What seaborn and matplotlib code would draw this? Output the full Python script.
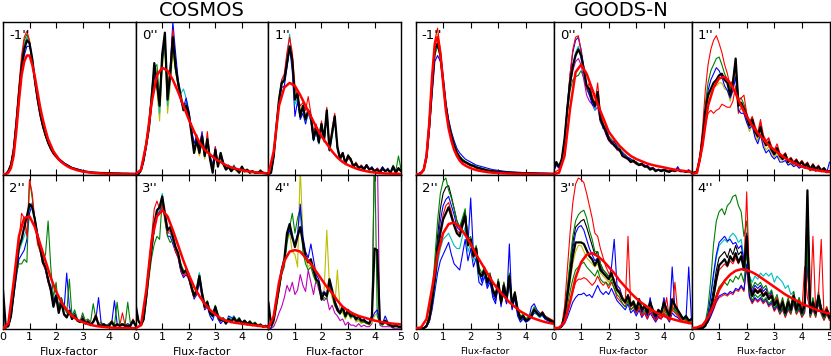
import numpy as np
import matplotlib
matplotlib.use("Agg")
import matplotlib.pyplot as plt
import seaborn as sns

# bin centres of the flux-factor histograms and the grid of the smooth fits
x_bins = np.linspace(0, 5, 51)
x_fit = np.linspace(0, 5, 26)

panel_labels = ["-1''", "0''", "1''", "2''", "3''", "4''"]

# ---------------- COSMOS ----------------
cos_m1_k = [0,0,2,6,15,32,52,70,82,88, 86,76,62,50,40,32,26,21,17,14, 12,10,8.5,7,6,5,4,3.5,3,2.5,
            2,1.7,1.5,1.2,1,1,0.9,0.8,0.8,0.7, 0.6,0.6,0.5,0.5,0.5,0.4,0.4,0.4,0.3,0.3, 0.3]
cos_m1_fit = [0,0,1,4,12,28,48,65,74,78, 78,72,64,54,44,36,29,23,19,15, 12.5,10,8,6.7,5.5,4.5,3.8,3.2,2.6,2.2,
              1.8,1.5,1.3,1.1,0.9,0.7,0.6,0.5,0.4,0.35, 0.3,0.25,0.2,0.2,0.15,0.1,0.1,0.1,0.1,0.05, 0]
cos_m1_g = [0,0,2,7,17,35,56,75,88,92, 87,75,61,49,39,31,25,20,17,14, 12,10,8,7,6,5,4,3.5,3,2.5,
            2,1.8,1.5,1.2,1,1,0.9,0.8,0.7,0.7, 0.6,0.6,0.5,0.5,0.4,0.4,0.4,0.3,0.3,0.3, 0.3]
cos_m1_b = [0,0,1,5,13,29,48,66,78,84, 84,76,63,51,41,33,27,22,18,15, 12,10,9,7.5,6.5,5.5,4.5,4,3.5,3,
            2.5,2,1.8,1.5,1.3,1.2,1.1,1,0.9,0.8, 0.7,0.7,0.6,0.6,0.5,0.5,0.5,0.4,0.4,0.4, 0.4]
cos_m1_r = [0,0,2,7,18,37,58,78,90,94, 88,74,60,48,38,31,25,20,16,13, 11,9,8,7,6,5,4,3.5,3,2.5,
            2,1.7,1.4,1.2,1,0.9,0.8,0.8,0.7,0.6, 0.6,0.5,0.5,0.5,0.4,0.4,0.4,0.3,0.3,0.3, 0.3]
cos_m1_c = [0,0,2,6,16,33,54,73,85,90, 86,75,62,50,40,33,27,22,18,15, 12,10,8.5,7,6,5,4.2,3.6,3,2.5,
            2,1.7,1.5,1.2,1,1,0.9,0.8,0.8,0.7, 0.6,0.6,0.5,0.5,0.5,0.4,0.4,0.4,0.3,0.3, 0.3]

cos_0_k = [0,0,3,10,20,31,49,73,60,45, 79,93,49,66,90,71,60,51,42,45, 40,27,14,23,14,25,12,23,10,1,
           16,5,14,7,3,5,2,4,3,1, 5,2,3,1,2,1,1,2,1,0.5, 0.5]
cos_0_fit = [0,3,20,47,65,70,68,62,54,45, 36,28,21,16,13,10,8,6,4.5,3.5, 2.7,2,1.5,1.1,0.8,0.6]
cos_0_g = [0,0,3,10,22,35,55,70,72,50, 75,85,55,62,85,68,58,50,44,47, 38,30,18,20,16,22,14,20,12,5,
           14,8,12,6,4,5,3,6,3,2, 4,2,3,2,2,1,1,3,1,1, 0.5]
cos_0_b = [0,0,2,8,18,30,47,65,58,48, 75,88,52,70,100,80,62,48,44,50, 42,30,20,26,18,28,14,22,12,6,
           18,6,12,8,4,6,2,5,3,2, 4,2,2,1,2,1,1,1,1,0.5, 0.5]
cos_0_r = [0,0,3,10,20,33,52,70,62,46, 78,90,55,70,95,72,58,50,45,44, 38,28,16,22,14,26,12,28,10,4,
           18,6,14,8,3,5,2,4,3,1, 4,2,3,1,2,1,1,2,1,0.5, 0.5]
cos_0_c = [0,0,3,9,19,30,48,68,60,40, 72,88,45,62,88,70,62,53,56,50, 40,28,16,22,15,24,13,20,11,4,
           15,6,12,7,3,6,3,5,3,2, 4,2,3,1,2,1,1,1,1,0.5, 0.5]
cos_0_y = [0,0,2,8,18,28,45,62,55,35, 70,82,40,58,80,68,58,50,42,44, 38,26,14,20,12,22,10,18,10,2,
           14,5,12,6,3,4,2,4,2,1, 3,1,2,1,1,1,1,1,1,0.5, 0.5]

cos_1_k = [0,1,12,31,49,60,62,73,84,75, 49,53,38,45,36,42,38,23,31,21, 33,23,42,16,27,38,18,10,14,7,
           12,10,5,7,4,5,3,6,3,4, 2,3,1,4,2,3,1,5,1,4, 2]
cos_1_fit = [0,15,45,57,60,58,52,45,38,31, 25,20,15,11,8,6,4.5,3.2,2.3,1.6, 1.1,0.8,0.5,0.4,0.3,0.2]
cos_1_r = [0,1,12,30,48,62,66,80,90,80, 58,50,45,47,42,51,40,28,33,24, 35,22,44,18,30,40,16,12,14,8,
           10,9,5,8,4,6,3,5,4,3, 2,4,2,3,2,3,1,4,1,3, 2]
cos_1_c = [0,1,13,33,50,62,64,78,92,72, 46,50,40,42,35,40,36,25,30,20, 32,22,38,15,25,35,16,9,13,6,
           11,9,5,6,4,5,3,5,3,4, 2,3,2,3,2,3,1,4,1,3, 2]
cos_1_b = [0,1,11,29,47,57,58,70,83,68, 38,48,36,40,33,40,35,22,28,20, 30,24,40,17,27,36,18,11,14,8,
           12,10,6,7,4,6,4,6,3,5, 2,4,2,5,2,4,1,5,2,4, 2]
cos_1_g = [0,1,12,31,48,59,61,72,82,74, 50,52,38,44,35,41,37,22,31,22, 33,21,40,16,26,37,17,10,14,7,
           13,10,6,7,5,5,4,6,3,4, 2,3,2,4,2,3,1,6,2,12, 3]

cos_2_k = [25,2,1.5,8,23,38,53,58,66,73, 81,79,71,60,53,43,40,32,25,14, 21,10,17,9,7,11,6,8,5,4,
           6,3,4,2,4,8,2,1.5,2.5,1, 1.5,4,1,2.5,1.5,2.5,1.5,1.5,1.5,5, 1.5]
cos_2_fit = [0,3,30,60,72,73,66,55,44,33, 24,17,12,8,5.5,4,2.7,1.8,1.2,0.8, 0.5,0.3,0.2,0.1,0.1,0]
cos_2_g = [0,0,1,8,22,36,42,42,45,43, 97,85,70,58,50,45,48,70,40,20, 30,12,20,14,10,32,8,12,6,4,
           10,5,6,4,16,6,3,4,2,2, 3,5,2,17,2,3,2,17,3,4, 2]
cos_2_b = [0,0,1,7,20,33,45,48,51,58, 75,81,72,62,55,45,38,30,28,18, 22,14,20,12,36,14,8,10,6,4,
           8,4,5,3,4,6,20,3,2,2, 3,4,18,3,2,3,2,3,2,4, 2]
cos_2_r = [0,0,2,9,25,40,56,75,72,60, 97,88,70,55,50,42,38,30,24,15, 20,12,16,9,8,12,6,9,5,4,
           7,3,5,2,5,9,3,2,3,1, 2,5,1,3,2,10,2,2,2,6, 2]
cos_2_c = [0,0,1,8,22,37,50,55,60,65, 78,82,70,58,52,46,40,33,26,16, 22,11,18,10,8,10,7,8,5,4,
           6,4,5,3,4,7,3,2,3,2, 2,4,2,3,2,3,2,2,2,5, 2]

cos_3_k = [15,5,2,6,21,38,53,68,77,79, 86,75,64,66,60,53,49,40,36,38, 34,27,21,25,34,23,14,17,10,8,
           14,8,5,6,3,6,4,7,4,6, 3,5,3,4,2,3,1.5,2,1,1.5, 1]
cos_3_fit = [0,2,25,57,73,77,73,64,54,44, 35,27,21,16,12,9,6.5,5,4,3.4, 3,2.5,2,1.6,1.2,1]
cos_3_r = [14,5,2,7,24,42,60,78,83,78, 80,72,62,64,58,50,46,38,34,36, 32,25,20,24,32,22,13,16,10,8,
           13,7,5,6,3,6,4,6,4,5, 3,4,3,4,2,3,1.5,2,1,1.5, 1]
cos_3_g = [14,5,2,5,18,33,46,55,60,58, 84,70,60,56,58,52,48,42,38,36, 36,28,22,27,36,24,16,18,11,9,
           15,9,6,7,4,7,5,8,5,7, 4,5,3,5,3,4,2,3,1.5,2, 1]
cos_3_c = [15,5,2,6,20,37,52,66,75,78, 88,74,62,62,58,51,48,41,35,37, 35,28,20,24,36,22,14,16,10,7,
           12,8,5,6,4,7,6,8,5,6, 3,5,3,4,2,3,1.5,2,1,1.5, 1]
cos_3_b = [15,5,2,6,20,36,50,65,74,76, 82,72,60,60,55,50,46,37,33,35, 32,26,19,22,30,20,12,14,8,5,
           11,6,3,5,3,8,7,6,4,5, 3,4,2,3,2,3,1,2,1,1, 1]

cos_4_k = [17,2,6,17,27,38,45,62,68,60, 53,60,66,56,47,43,45,38,32,30, 19,23,21,32,25,17,12,10,14,8,
           12,8,9,6,8,5,5,4,3,8, 52,51,4,3,5,3,2,1,2,1, 1]
cos_4_fit = [0,8,30,44,50,51,50,46,42,37, 32,27,23,18,14,11.5,9.5,8,7,6, 5,4.3,3.7,3.2,2.8,2.5]
cos_4_m = [0,0,1,5,10,14,20,28,24,30, 22,25,35,28,24,38,30,22,32,25, 20,18,20,12,15,10,8,5,6,2,
           4,2,2,1,3,1,2,1,1,3, 120,120,2,1,1,1,1,0,0,0, 0]
cos_4_y = [0,0,3,12,24,36,44,58,62,50, 48,40,105,60,45,40,42,36,30,28, 22,25,64,28,20,14,38,12,10,6,
           10,6,8,4,5,3,4,3,2,4, 8,10,3,2,4,2,2,1,1,1, 1]
cos_4_g = [0,0,4,14,24,35,40,55,66,75, 62,72,78,50,42,38,40,34,30,28, 18,20,19,28,22,15,11,9,12,7,
           10,7,8,5,6,4,4,3,3,7, 120,8,3,2,4,2,2,1,1,1, 1]
cos_4_b = [0,0,5,15,26,37,44,60,64,58, 55,62,81,60,50,46,55,45,35,32, 22,24,22,30,24,18,14,10,13,8,
           11,8,8,6,7,5,6,4,3,6, 10,12,4,3,8,4,2,1,2,1, 1]

# ---------------- GOODS-N ----------------
gds_m1_k = [0,0,1,3,12,32,58,82,86,78, 62,45,33,25,19,14,11,9,8,7, 6,5.5,4.5,4,3.5,3,2.5,2.2,2,1.8,
            1.5,1.4,1.3,1.2,1.1,1,0.9,0.8,0.8,0.7, 0.7,0.6,0.6,0.5,0.5,0.4,0.4,0.4,0.3,0.3, 0.3]
gds_m1_fit = [0,0,0.5,3,12,34,64,86,90,80, 60,42,30,22,16,12,9,7,5.8,4.8, 4,3.3,2.8,2.3,2,1.7,1.4,1.2,1,0.9,
              0.8,0.7,0.6,0.5,0.45,0.4,0.35,0.3,0.3,0.25, 0.2,0.2,0.2,0.15,0.15,0.1,0.1,0.1,0.1,0.1, 0.1]
gds_m1_r = [0,0,1,3,13,35,62,88,96,82, 62,44,32,24,18,13,10,8.5,7.5,6.5, 5.5,5,4,3.5,3,2.8,2.3,2,1.8,1.6,
            1.4,1.3,1.2,1.1,1,0.9,0.8,0.8,0.7,0.7, 0.6,0.6,0.5,0.5,0.4,0.4,0.4,0.3,0.3,0.3, 0.3]
gds_m1_b = [0,0,1,3,10,28,52,74,78,74, 62,47,36,28,22,17,14,12,10,9, 8,7,6,5.5,5,4.5,4,3.5,3,2.8,
            2.5,2.3,2,1.8,1.6,1.5,1.4,1.3,1.2,1.1, 1,1,0.9,0.8,0.8,0.7,0.7,0.6,0.6,0.5, 0.5]
gds_m1_g = [0,0,1,3,11,30,55,78,84,78, 63,46,34,26,20,15,12,10,8.5,7.5, 6.5,6,5,4.5,4,3.5,3,2.6,2.3,2,
            1.8,1.6,1.4,1.3,1.2,1.1,1,0.9,0.8,0.8, 0.7,0.7,0.6,0.6,0.5,0.5,0.4,0.4,0.4,0.3, 0.3]
gds_m1_y = [0,0,1,3,12,33,60,86,92,80, 62,45,33,25,19,14,11,9,8,7, 6,5.5,4.5,4,3.5,3,2.5,2.2,2,1.8,
            1.5,1.4,1.3,1.2,1.1,1,0.9,0.8,0.8,0.7, 0.7,0.6,0.6,0.5,0.5,0.4,0.4,0.4,0.3,0.3, 0.3]

gds_0_k = [3,8,5,10,23,43,60,71,78,82, 78,69,58,56,49,45,54,36,32,28, 23,21,19,17,16,12,11,10,8,9,
           7,6,7,5,5,3,4,2,3,2, 3,2,1.5,3,2,3,2,2,1.5,2, 1]
gds_0_fit = [0,1,12,43,67,72,66,56,46,37, 28,23,18.5,15,12,10,8.5,7,6,5.2, 4.5,3.7,3,2.5,2,1.5]
gds_0_b = [2,6,4,9,22,45,65,80,88,90, 82,70,58,52,46,44,50,38,30,30, 25,20,22,18,15,14,12,11,10,8,
           8,6,6,5,6,4,4,3,3,2, 3,2,2,3,2,5,2,2,2,3, 1]
gds_0_r = [0,2,3,8,20,44,66,82,90,91, 80,68,56,60,52,46,60,40,34,28, 24,22,20,16,16,12,12,10,9,8,
           7,6,6,5,5,4,4,3,3,2, 3,2,2,2,2,3,2,2,2,2, 1]
gds_0_g = [3,7,5,10,22,40,55,62,64,65, 68,63,56,52,50,46,50,38,33,30, 25,23,21,19,17,14,13,11,10,9,
           8,7,7,6,5,4,4,3,3,3, 3,2,2,2,2,4,2,2,1.5,2, 1]
gds_0_c = [3,8,5,10,24,44,60,72,80,84, 76,66,58,54,48,42,48,35,30,32, 24,22,18,20,16,15,12,11,9,8,
           7,7,6,5,5,4,3,3,3,2, 2,2,2,2,2,3,2,2,1.5,2, 1]
gds_0_m = [2,6,4,9,22,42,58,68,74,76, 72,62,52,48,46,42,44,34,31,26, 22,20,19,16,15,13,12,10,9,8,
           7,6,6,6,5,4,4,3,3,3, 2,3,2,3,2,3,2,2,2,2, 1]

gds_1_k = [1,1,2,10,23,41,52,56,60,62, 65,66,62,60,52,60,76,45,47,43, 38,32,36,28,25,31,23,19,21,16,
           13,17,12,10,13,8,10,7,9,6, 8,5,7,3,6,3,5,2,4,1.5, 2]
gds_1_fit = [0,1,19,45,57,63,64,60,53,45, 38,32,27,23,19,16,13,10.5,8.5,6.5, 5,4,3,2.4,1.9,1.5]
gds_1_r_hi = [0,1,2,12,30,55,72,82,88,91, 86,80,72,66,58,62,70,48,50,52, 40,34,38,32,27,36,26,22,24,18,
              16,18,13,12,14,9,11,8,10,7, 9,6,7,4,6,4,5,3,4,2, 2]
gds_1_g = [0,1,2,11,26,46,60,68,72,76, 77,72,66,62,56,62,74,50,50,46, 40,34,36,30,26,30,24,20,22,18,
           14,16,12,11,12,9,10,8,9,6, 8,6,7,4,6,4,5,3,4,2, 2]
gds_1_b = [0,1,2,10,24,42,55,62,66,70, 68,64,58,55,50,55,64,42,40,40, 34,30,32,24,20,26,18,14,16,12,
           10,12,8,8,9,6,7,5,6,4, 5,4,5,3,4,2,3,2,3,1, 8]
gds_1_r_lo = [0,1,2,8,18,32,40,42,40,42, 43,46,45,44,44,48,58,40,44,40, 36,32,35,28,24,34,25,22,23,18,
              16,20,14,12,14,9,11,8,10,7, 9,6,8,4,7,4,6,3,4,2, 2]
gds_1_y = [0,1,2,9,22,40,50,54,57,58, 60,60,56,55,48,55,68,42,44,40, 34,28,32,26,22,28,20,16,18,14,
           11,14,10,9,11,6,8,5,6,4, 6,4,5,2,3,2,3,2,2,1, 1]

gds_2_k = [0,0,0,0,1.5,6,17,32,49,62, 71,75,79,73,67,62,60,67,73,54, 58,47,52,36,34,38,30,34,25,21,
           30,17,28,19,34,15,23,12,6,8, 5,6,8,12,10,8,10,7,6,5, 4]
gds_2_fit = [0,0.5,6,26,48,62,68,69,66,61, 55,48,42,36,30,25,21,17,14,11, 9,7,5.7,4.5,3.6,2.9]
gds_2_g = [0,0,0,0,2,8,22,45,70,88, 96,98,90,85,78,70,66,72,78,58, 60,50,54,40,36,40,32,36,26,22,
           32,18,30,20,36,16,24,14,8,9, 6,8,10,14,11,9,10,8,6,5, 4]
gds_2_b_hi = [0,0,0,0,1,6,18,36,55,70, 80,84,86,80,74,66,64,70,76,55, 85,48,50,38,30,40,28,32,20,16,
              30,14,26,16,55,12,20,8,4,6, 4,6,14,16,12,10,8,6,5,4, 3]
gds_2_b_lo = [0,0,0,0,1,4,12,24,36,44, 48,52,56,48,42,40,38,48,58,44, 52,40,46,30,28,34,26,30,22,18,
              27,16,24,16,30,13,20,10,5,7, 4,5,7,10,9,7,9,6,5,4, 3]
gds_2_c = [0,0,0,0,1,5,15,28,42,52, 58,60,62,58,54,52,52,60,66,50, 55,44,48,34,32,36,28,32,24,20,
           28,16,26,18,32,14,22,11,5,7, 5,6,8,11,9,7,9,6,5,4, 3]
gds_2_r = [0,0,0,0,1,5,16,32,50,64, 74,80,82,76,68,64,62,68,75,60, 56,46,52,38,34,40,30,36,24,22,
           32,18,30,20,34,16,24,12,7,8, 6,7,9,13,10,9,11,8,7,6, 5]
gds_2_k_thin = [0,0,0,0,2,8,22,40,60,78, 88,92,93,86,78,70,66,70,76,56, 58,48,52,36,34,38,30,34,24,20,
                30,16,28,18,34,14,22,12,6,8, 5,6,8,12,10,8,10,7,6,5, 4]

gds_3_k = [0,0,0,1.5,8,21,34,47,56,56, 56,55,51,47,45,41,45,38,36,34, 32,36,30,25,23,19,17,21,15,17,
           12,19,12,15,10,17,12,8,12,10, 17,12,8,19,15,12,9,6,8,5, 6]
gds_3_fit = [0,0.3,4,17,33,43,48,49,47,44, 40,36,31,27,23,19.5,16.5,14,11.5,9.5, 8,6.5,5.5,4.5,3.8,3.2]
gds_3_r_hi = [0,0,0,2,14,38,62,82,94,98, 97,95,88,80,72,62,60,52,46,40, 36,34,32,26,24,20,16,60,14,16,
              10,14,8,10,6,12,8,5,8,6, 10,20,6,12,30,10,6,4,5,3, 4]
gds_3_g = [0,0,0,2,10,26,44,60,70,74, 76,77,72,64,58,50,50,42,38,36, 34,36,30,26,24,20,18,22,16,18,
           14,18,12,14,10,14,12,8,10,10, 14,10,8,14,12,10,8,6,6,4, 5]
gds_3_k_thin = [0,0,0,2,9,24,40,56,66,68, 70,71,66,60,54,48,50,42,38,36, 34,36,30,26,24,20,18,22,16,18,
                12,18,12,14,10,16,12,8,12,10, 16,12,8,18,14,11,8,6,7,5, 6]
gds_3_b_hi = [0,0,0,1,8,22,38,52,62,66, 67,64,58,52,48,44,46,40,36,34, 32,40,58,28,26,20,18,22,14,16,
              10,18,10,14,8,20,10,6,10,8, 20,12,6,40,12,10,8,6,6,40, 5]
gds_3_y = [0,0,0,1,6,18,30,42,50,54, 54,50,46,44,42,40,42,36,34,32, 30,34,28,24,22,18,16,20,14,16,
           11,16,10,13,9,14,10,7,10,8, 14,10,7,16,12,10,8,5,6,4, 5]
gds_3_g_lo = [0,0,0,1,5,14,24,32,38,40, 42,43,40,38,36,34,38,32,30,30, 28,32,26,22,20,16,14,18,12,14,
              10,14,9,12,8,12,9,6,9,8, 12,9,6,14,11,9,7,5,6,4, 5]
gds_3_r_lo = [0,0,0,1,4,10,18,24,30,32, 32,33,32,30,28,30,34,30,28,30, 26,30,26,20,18,16,14,18,12,14,
              10,14,8,12,8,12,8,5,8,7, 10,8,5,12,10,8,6,4,5,3, 4]
gds_3_b_lo = [0,0,0,1,3,7,12,17,20,22, 22,23,21,22,20,24,28,24,22,24, 22,26,22,18,16,14,12,16,10,12,
              8,12,7,10,6,10,7,4,7,6, 9,7,4,10,8,7,5,4,4,3, 3]

gds_4_k = [0,0,0,0,0,1.5,6,12,21,32, 41,43,45,41,47,44,49,43,47,38, 60,28,21,25,23,25,21,23,19,21,
           15,18,12,17,10,17,12,21,12,17, 10,15,90,10,17,10,21,12,8,12, 7]
gds_4_fit = [0,0.5,2,7,15,25,31,35,37.5,38.5, 38,36.5,34.5,32,29.5,27,24.5,22,20,18, 16,14.5,13,11.5,10.5,9.5]
gds_4_g = [0,0,0,0,1,4,14,32,55,70, 76,78,74,80,82,86,87,80,76,60, 70,34,26,30,28,30,26,28,22,25,
           18,22,14,20,12,20,14,24,14,20, 12,18,60,12,20,12,24,14,10,14, 8]
gds_4_b = [0,0,0,0,1,3,10,22,36,48, 56,58,60,57,58,55,56,52,54,44, 62,30,24,28,26,28,24,26,20,24,
           16,20,13,18,11,18,13,22,13,18, 11,16,80,11,18,11,22,13,9,13, 8]
gds_4_c = [0,0,0,0,1,3,9,20,34,46, 54,56,58,56,60,62,60,56,58,46, 58,34,30,34,32,36,34,36,34,36,
           30,34,32,30,26,28,22,24,16,20, 12,16,70,11,18,11,22,12,9,12, 7]
gds_4_r_hi = [0,0,0,0,1,2,6,12,20,30, 38,40,42,40,44,42,46,42,46,40, 89,30,22,26,24,26,22,24,20,22,
              16,20,13,18,11,18,12,22,13,18, 12,40,20,12,60,11,22,58,9,14, 8]
gds_4_k_thin = [0,0,0,0,1,2,8,16,26,38, 46,48,50,46,52,48,54,48,50,42, 62,30,22,26,24,26,22,24,20,22,
                16,19,13,18,11,18,13,22,13,18, 11,16,88,11,18,11,22,13,9,13, 8]
gds_4_g_lo = [0,0,0,0,1,2,5,10,16,22, 27,29,30,28,32,30,34,32,36,30, 50,24,18,22,20,22,18,20,16,18,
              13,16,10,14,8,14,10,18,10,14, 8,12,50,8,14,8,18,10,6,10, 6]
gds_4_r_lo = [0,0,0,0,1,2,4,8,12,17, 20,21,22,21,23,22,25,24,27,24, 40,20,16,19,17,19,16,18,14,16,
              11,14,9,12,7,12,9,16,9,12, 7,10,40,7,12,7,16,9,5,9, 5]
gds_4_b_lo = [0,0,0,0,1,2,4,8,13,18, 21,22,23,22,24,23,26,25,28,25, 42,21,17,20,18,20,17,19,15,17,
              12,15,10,13,8,13,10,17,10,13, 8,11,45,8,13,8,17,10,6,10, 6]

# matplotlib "classic" single-letter colours
C = {"b": (0, 0, 1), "g": (0, 0.5, 0), "r": (1, 0, 0), "c": (0, 0.75, 0.75),
     "m": (0.75, 0, 0.75), "y": (0.75, 0.75, 0), "k": (0, 0, 0)}

cosmos = [
    (cos_m1_k, cos_m1_fit, [("c", cos_m1_c), ("b", cos_m1_b), ("g", cos_m1_g), ("r", cos_m1_r)]),
    (cos_0_k, cos_0_fit, [("y", cos_0_y), ("c", cos_0_c), ("g", cos_0_g), ("b", cos_0_b), ("r", cos_0_r)]),
    (cos_1_k, cos_1_fit, [("g", cos_1_g), ("b", cos_1_b), ("c", cos_1_c), ("r", cos_1_r)]),
    (cos_2_k, cos_2_fit, [("c", cos_2_c), ("b", cos_2_b), ("g", cos_2_g), ("r", cos_2_r)]),
    (cos_3_k, cos_3_fit, [("b", cos_3_b), ("g", cos_3_g), ("c", cos_3_c), ("r", cos_3_r)]),
    (cos_4_k, cos_4_fit, [("m", cos_4_m), ("y", cos_4_y), ("g", cos_4_g), ("b", cos_4_b)]),
]
goods = [
    (gds_m1_k, gds_m1_fit, [("b", gds_m1_b), ("g", gds_m1_g), ("y", gds_m1_y), ("r", gds_m1_r)]),
    (gds_0_k, gds_0_fit, [("g", gds_0_g), ("m", gds_0_m), ("c", gds_0_c), ("b", gds_0_b), ("r", gds_0_r)]),
    (gds_1_k, gds_1_fit, [("r", gds_1_r_lo), ("y", gds_1_y), ("b", gds_1_b), ("g", gds_1_g), ("r", gds_1_r_hi)]),
    (gds_2_k, gds_2_fit, [("b", gds_2_b_lo), ("c", gds_2_c), ("r", gds_2_r), ("b", gds_2_b_hi),
                          ("k", gds_2_k_thin), ("g", gds_2_g)]),
    (gds_3_k, gds_3_fit, [("b", gds_3_b_lo), ("r", gds_3_r_lo), ("g", gds_3_g_lo), ("y", gds_3_y),
                          ("b", gds_3_b_hi), ("k", gds_3_k_thin), ("g", gds_3_g), ("r", gds_3_r_hi)]),
    (gds_4_k, gds_4_fit, [("r", gds_4_r_lo), ("b", gds_4_b_lo), ("g", gds_4_g_lo), ("k", gds_4_k_thin),
                          ("c", gds_4_c), ("b", gds_4_b), ("g", gds_4_g), ("r", gds_4_r_hi)]),
]

sns.set_style("white", {"axes.edgecolor": "black", "xtick.direction": "in", "ytick.direction": "in",
                        "text.color": "black", "xtick.color": "black"})
plt.rcParams["font.family"] = ["DejaVu Sans"]

W, H = 831, 356
fig = plt.figure(figsize=(W / 100, H / 100), dpi=100)


def draw_group(panels, x0, pw, tick_fs, label_fs):
    for i, (black, fit, thin) in enumerate(panels):
        row, col = divmod(i, 3)
        top = 22 if row == 0 else 175
        ph = 153 if row == 0 else 154
        ax = fig.add_axes([(x0 + col * pw) / W, 1 - (top + ph) / H, pw / W, ph / H])
        for c, ys in thin:
            sns.lineplot(x=x_bins, y=ys, ax=ax, color=C[c], linewidth=0.8, zorder=2, legend=False)
        sns.lineplot(x=x_bins, y=black, ax=ax, color="black", linewidth=1.6, zorder=3, legend=False)
        xf = x_bins if len(fit) == len(x_bins) else x_fit
        sns.lineplot(x=xf, y=fit, ax=ax, color="red", linewidth=1.8, zorder=4, legend=False)
        ax.set_xlim(0, 5)
        ax.set_ylim(-0.5, 100)
        ax.set_yticks([])
        ax.set_ylabel("")
        ax.set_xticks([0, 1, 2, 3, 4, 5])
        ax.tick_params(axis="x", which="both", direction="in", top=True, bottom=True,
                       length=4, width=0.8, labelsize=tick_fs, pad=2.5, colors="black")
        for sp in ax.spines.values():
            sp.set_linewidth(1.0)
            sp.set_color("black")
        if row == 0:
            ax.set_xticklabels([])
            ax.set_xlabel("")
        else:
            labels = ["0", "1", "2", "3", "4", "5" if col == 2 else ""]
            ax.set_xticklabels(labels)
            ax.set_xlabel("Flux-factor", fontsize=label_fs, labelpad=3, color="black")
        ax.text(0.045, 0.955, panel_labels[i], transform=ax.transAxes,
                ha="left", va="top", fontsize=9.5, zorder=6, color="black")


draw_group(cosmos, 3, 132.7, 8, 7.8)
draw_group(goods, 415.5, 138.0, 7.2, 6.6)

fig.text(202 / W, 1 - 10 / H, "COSMOS", ha="center", va="center", fontsize=14)
fig.text(621 / W, 1 - 10 / H, "GOODS-N", ha="center", va="center", fontsize=14)

fig.savefig("out.png", dpi=100)
